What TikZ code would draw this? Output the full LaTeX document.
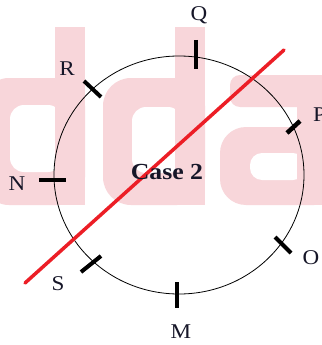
\documentclass[tikz,border=0pt]{standalone}
\usepackage{fontspec}
\setmainfont{Liberation Serif}
\definecolor{wmpink}{RGB}{248,214,218}
\definecolor{cutred}{RGB}{236,30,38}
\definecolor{labelink}{RGB}{22,22,40}
\newcommand{\widetxt}[1]{\scalebox{1.1}[1]{#1}}
\newcommand{\widecase}[1]{\scalebox{1.12}[1]{#1}}
\begin{document}
\begin{tikzpicture}[x=1pt,y=-1pt,
  wm/.style={fill=wmpink},
  wmhole/.style={fill=white},
  tickmark/.style={line width=4pt,black},
  lbl/.style={font=\fontsize{21}{21}\selectfont,text=labelink,inner sep=0pt},
  casetext/.style={font=\bfseries\fontsize{23}{23}\selectfont,text=labelink,inner sep=0pt}]
\useasboundingbox (0,0) rectangle (321,345);
\fill[white] (0,0) rectangle (321,345);
% watermark letters
\fill[wm,rounded corners=28] (-19,78) rectangle (85,205);
\fill[wmhole,rounded corners=14] (10,105) rectangle (62,172);
\fill[wm] (55,27) rectangle (85,205);
\fill[wm,rounded corners=28] (103,78) rectangle (205,205);
\fill[wmhole,rounded corners=14] (132,107) rectangle (182,173);
\fill[wm] (175,27) rectangle (205,205);
\fill[wm,rounded corners=10] (230,75) rectangle (340,107);
\fill[wm,rounded corners=26] (220,127) rectangle (340,205);
\fill[wmhole,rounded corners=12] (250,153) rectangle (305,180);
\fill[wm] (297,80) rectangle (340,205);
% circle
\draw[line width=0.8pt] (179,175) ellipse [x radius=125, y radius=119];
% ticks
\draw[tickmark] (196,40) -- (196,69);
\draw[tickmark,line width=4.5pt] (287,133) -- (300,121);
\draw[tickmark] (275,237) -- (291,253);
\draw[tickmark] (177,282) -- (177,308);
\draw[tickmark] (81,272) -- (101,256);
\draw[tickmark] (39,180) -- (66,180);
\draw[tickmark] (84,81) -- (101,97);
% red line
\coordinate (lineA) at (25,283);
\coordinate (lineB) at (284,50);
\draw[cutred,line width=3.5pt,line cap=round] (lineA) -- (lineB);
% labels
\node[lbl] (Q) at (199,15) {\widetxt{Q}};
\node[lbl,anchor=west] (P) at (313,115) {\widetxt{P}};
\node[lbl] (O) at (311,258) {\widetxt{O}};
\node[lbl] (M) at (181,332) {\widetxt{M}};
\node[lbl] (S) at (58,284) {\widetxt{S}};
\node[lbl] (N) at (17,184) {\widetxt{N}};
\node[lbl] (R) at (67,69) {\widetxt{R}};
\node[casetext] (case) at (167,172) {\widecase{Case 2}};
\end{tikzpicture}
\end{document}
